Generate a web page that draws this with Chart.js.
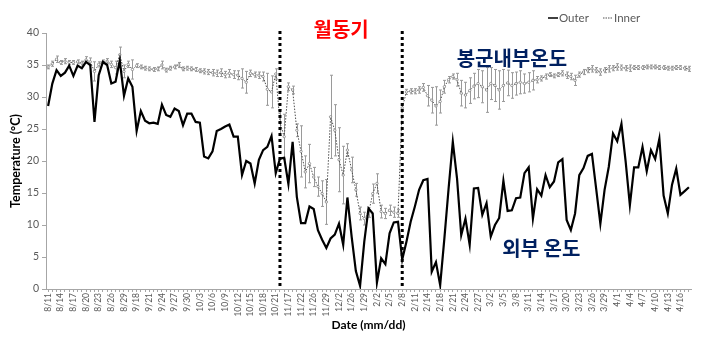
<!DOCTYPE html>
<html><head><meta charset="utf-8">
<script src="https://cdn.jsdelivr.net/npm/chart.js@4.4.1/dist/chart.umd.min.js"></script>
<style>html,body{margin:0;padding:0;background:#fff}#wrap{width:703px;height:344px}</style>
</head><body><div id="wrap"><canvas id="c" width="703" height="344"></canvas></div>
<script>
const dates = [
'8/11','8/12','8/13','8/14','8/15','8/16','8/17','8/18','8/19','8/20',
'8/21','8/22','8/23','8/24','8/25','8/26','8/27','8/28','8/29','8/30',
'8/31','9/18','9/19','9/20','9/21','9/22','9/23','9/24','9/25','9/26',
'9/27','9/28','9/29','9/30','10/1','10/2','10/3','10/4','10/5','10/6',
'10/7','10/8','10/9','10/10','10/11','10/12','10/13','10/14','10/15','10/16',
'10/17','10/18','10/19','10/20','10/21','10/22','11/16','11/17','11/19','11/20',
'11/22','11/23','11/24','11/26','11/27','11/28','11/29','11/30','12/1','12/2',
'12/3','12/4','1/26','1/27','1/28','1/29','1/30','1/31','2/2','2/3',
'2/4','2/5','2/6','2/7','2/8','2/9','2/10','2/11','2/12','2/13',
'2/14','2/15','2/16','2/18','2/19','2/20','2/21','2/22','2/23','2/24',
'2/25','2/26','2/27','2/28','3/1','3/2','3/3','3/4','3/5','3/6',
'3/7','3/8','3/9','3/10','3/11','3/12','3/13','3/14','3/15','3/16',
'3/17','3/18','3/19','3/20','3/21','3/22','3/23','3/24','3/25','3/26',
'3/27','3/28','3/29','3/30','3/31','4/1','4/2','4/3','4/4','4/5',
'4/6','4/7','4/8','4/9','4/10','4/11','4/12','4/13','4/14','4/15',
'4/16','4/17','4/18'
];
const tickDates = ['8/11','8/14','8/17','8/20','8/23','8/26','8/29','9/18','9/21','9/24','9/27','9/30',
'10/3','10/6','10/9','10/12','10/15','10/18','10/21','11/17','11/22','11/26','11/29','12/2','1/26','1/29',
'2/2','2/5','2/8','2/11','2/14','2/18','2/21','2/24','2/27','3/2','3/5','3/8','3/11','3/14','3/17','3/20',
'3/23','3/26','3/29','4/1','4/4','4/7','4/10','4/13','4/16'];
const outer = [
28.6,32.1,34.2,33.3,33.8,34.9,33.3,34.9,34.5,35.5,
35.0,26.1,33.4,35.5,35.0,32.1,32.4,35.7,30.2,32.9,
31.6,24.7,27.8,26.3,25.9,26.0,25.8,28.8,27.2,26.9,
28.2,27.8,25.6,27.4,27.4,26.1,26.0,20.7,20.4,21.5,
24.7,25.0,25.4,25.7,23.8,23.8,17.8,20.0,19.6,16.5,
20.2,21.7,22.2,23.9,18.1,20.4,20.5,16.4,23.0,14.4,
10.3,10.3,12.9,12.5,9.2,7.7,6.4,7.9,8.5,10.2,
6.9,14.3,8.2,2.8,0.5,7.4,12.6,11.8,1.0,4.8,
3.9,8.7,10.4,10.5,4.6,7.4,10.5,12.9,15.5,17.0,
17.2,2.7,4.2,0.6,7.9,15.7,23.0,17.3,8.4,11.0,
6.9,15.7,15.8,11.6,13.4,8.2,10.0,11.1,16.9,12.2,
12.3,14.2,14.3,18.1,19.0,11.0,15.6,14.6,17.8,15.9,
16.8,19.8,20.3,10.8,9.2,11.8,17.8,18.9,20.8,21.1,
15.7,10.2,15.5,19.1,24.3,23.1,25.8,19.9,13.1,19.0,
19.0,22.2,18.4,21.7,20.3,23.5,14.6,11.8,16.3,18.8,
14.7,15.3,15.9
];
const inner = [
34.7,35.2,35.9,35.4,35.6,35.4,35.4,35.5,35.3,35.8,
35.5,34.0,35.1,35.5,35.6,35.1,34.6,36.6,34.0,35.1,
34.3,34.9,34.7,34.5,34.4,34.3,34.4,35.0,34.2,34.5,
34.7,35.0,34.4,34.5,34.4,34.3,34.1,34.0,33.9,33.8,
33.7,33.8,33.5,33.7,33.5,33.4,32.9,32.3,33.7,33.5,
33.4,33.2,31.2,30.8,33.6,26.0,23.8,31.6,31.1,24.8,
21.5,18.3,19.6,17.5,16.0,14.9,13.6,26.9,24.8,20.2,
17.8,21.7,18.6,15.5,11.8,11.0,11.8,14.9,16.5,12.1,
11.8,12.3,12.0,11.8,28.3,30.8,30.9,30.9,31.1,31.5,
30.2,29.5,28.6,29.3,31.6,32.7,33.2,32.7,30.6,30.3,
31.0,31.7,32.1,31.6,31.1,32.1,31.8,31.1,31.8,32.2,
31.8,32.1,32.3,32.1,32.3,32.6,32.7,32.9,33.2,33.5,
33.3,33.5,33.7,33.4,33.2,32.6,33.5,33.9,34.2,34.4,
34.2,33.9,34.2,34.4,34.5,34.7,34.6,34.5,34.5,34.6,
34.6,34.6,34.7,34.7,34.7,34.6,34.6,34.5,34.5,34.6,
34.6,34.5,34.4
];
const innerErr = [
0.3,0.4,0.5,0.3,0.4,0.3,0.3,0.3,0.3,0.5,
0.6,1.5,0.4,0.3,0.4,0.5,1.0,1.2,1.0,0.5,
1.5,0.3,0.3,0.3,0.3,0.3,0.3,0.6,0.3,0.3,
0.3,0.4,0.3,0.3,0.3,0.3,0.3,0.4,0.4,0.5,
0.5,0.6,0.5,0.6,0.6,0.7,1.5,1.7,0.5,0.4,
0.5,0.7,2.5,2.5,0.8,2.0,3.5,0.6,0.6,1.0,
4.0,2.5,3.0,1.5,1.5,2.0,3.5,6.5,4.0,5.0,
4.5,1.0,2.0,1.0,1.0,1.0,0.6,1.5,1.5,1.0,
0.8,0.8,0.8,0.6,0.5,0.4,0.4,0.4,0.5,0.6,
1.6,2.0,3.0,1.8,1.0,0.5,0.4,1.0,2.0,2.0,
2.0,2.0,2.2,2.5,3.5,2.5,2.5,3.0,2.5,2.0,
2.0,1.8,1.8,1.5,1.5,1.5,0.5,0.4,0.4,0.3,
0.3,0.3,0.4,0.5,0.5,0.8,0.4,0.4,0.4,0.5,
0.4,0.5,0.4,0.5,0.4,0.5,0.4,0.4,0.5,0.3,
0.3,0.3,0.3,0.3,0.3,0.3,0.3,0.3,0.3,0.3,
0.3,0.3,0.4
];
const yTicks = [0,5,10,15,20,25,30,35,40];
const winterBounds = ['10/22','2/8'];
const seriesNames = ['Outer','Inner'];
const notes = {winter:'월동기', inner:'봉군내부온도', outer:'외부 온도'};

const tickFont = 'Lato, "Liberation Sans", sans-serif';
const krFont = '"Noto Sans CJK KR", sans-serif';

const extras = {
  id: 'extras',
  beforeDatasetsDraw(chart) {
    const {ctx, scales: {x, y}} = chart;
    ctx.save();
    ctx.strokeStyle = '#9a9a9a';
    ctx.lineWidth = 1;
    inner.forEach((v, i) => {
      const e = innerErr[i];
      const px = Math.round(x.getPixelForValue(i)) + 0.5;
      const y1 = y.getPixelForValue(v + e), y2 = y.getPixelForValue(v - e);
      ctx.beginPath();
      ctx.moveTo(px, y1); ctx.lineTo(px, y2);
      ctx.moveTo(px - 1.5, y1); ctx.lineTo(px + 1.5, y1);
      ctx.moveTo(px - 1.5, y2); ctx.lineTo(px + 1.5, y2);
      ctx.stroke();
    });
    ctx.restore();
  },
  afterDatasetsDraw(chart) {
    const {ctx, chartArea: a, scales: {x, y}} = chart;
    ctx.save();
    const wx = winterBounds.map(d => x.getPixelForValue(dates.indexOf(d)));
    ctx.strokeStyle = '#000';
    ctx.lineWidth = 3;
    ctx.setLineDash([3, 3]);
    wx.forEach(px => {
      ctx.beginPath(); ctx.moveTo(px, a.top - 2); ctx.lineTo(px, a.bottom); ctx.stroke();
    });
    ctx.setLineDash([]);
    ctx.textAlign = 'center';
    ctx.textBaseline = 'middle';
    ctx.font = 'bold 20px ' + krFont;
    ctx.fillStyle = '#ff0000';
    ctx.fillText(notes.winter, (wx[0] + wx[1]) / 2, a.top - 4);
    ctx.fillStyle = '#002060';
    ctx.fillText(notes.inner, x.getPixelForValue(110), y.getPixelForValue(36));
    ctx.fillText(notes.outer, x.getPixelForValue(117), y.getPixelForValue(6.4));
    ctx.font = '11.5px ' + tickFont;
    ctx.fillStyle = '#595959';
    ctx.textAlign = 'left';
    const ly = 18;
    ctx.strokeStyle = '#000'; ctx.lineWidth = 1.5;
    ctx.beginPath(); ctx.moveTo(548, ly); ctx.lineTo(558, ly); ctx.stroke();
    ctx.fillText(seriesNames[0], 559, ly);
    ctx.strokeStyle = '#8c8c8c'; ctx.lineWidth = 1.5; ctx.setLineDash([1.5, 1]);
    ctx.beginPath(); ctx.moveTo(603, ly); ctx.lineTo(613, ly); ctx.stroke();
    ctx.setLineDash([]);
    ctx.fillText(seriesNames[1], 614, ly);
    ctx.restore();
  }
};

new Chart(document.getElementById('c'), {
  type: 'line',
  data: {
    labels: dates,
    datasets: [
      { label: seriesNames[0], data: outer, borderColor: '#000', backgroundColor: '#000', borderWidth: 2.2, pointRadius: 0, tension: 0, order: 1 },
      { label: seriesNames[1], data: inner, borderColor: '#4d4d4d', borderWidth: 1, borderDash: [1.5, 1.5], pointRadius: 1.2, pointBackgroundColor: '#fff', pointBorderColor: '#808080', pointBorderWidth: 0.8, tension: 0, order: 2 }
    ]
  },
  options: {
    responsive: false, animation: false, devicePixelRatio: 1,
    layout: { padding: { left: 0, right: 12, top: 33, bottom: 0 } },
    plugins: { legend: { display: false }, tooltip: { enabled: false } },
    scales: {
      x: {
        type: 'category', offset: true,
        grid: { display: true, drawOnChartArea: false, tickLength: 3, color: '#a6a6a6' },
        border: { color: '#a6a6a6' },
        ticks: { autoSkip: false, minRotation: 90, maxRotation: 90, padding: 1, color: '#595959',
          font: { size: 8.5, family: tickFont },
          callback: (v, i) => tickDates.includes(dates[i]) && i % 3 === 0 ? dates[i] : '' },
        title: { display: true, text: 'Date (mm/dd)', color: '#000', font: { size: 12, weight: 'bold', family: tickFont }, padding: { top: 0, bottom: 12 } },
        afterFit: s => { s.height = 55; }
      },
      y: {
        min: 0, max: 40,
        afterBuildTicks: s => { s.ticks = yTicks.map(v => ({ value: v })); },
        grid: { display: true, drawOnChartArea: false, tickLength: 4, color: '#a6a6a6' },
        border: { color: '#a6a6a6' },
        ticks: { padding: 3, color: '#595959', font: { size: 10.5, family: tickFont } },
        title: { display: true, text: 'Temperature (°C)', color: '#000', font: { size: 12.5, weight: 'bold', family: tickFont }, padding: { top: 8, bottom: 0 } },
        afterFit: s => { s.width = 46; }
      }
    }
  },
  plugins: [extras]
});
</script>
</body></html>
